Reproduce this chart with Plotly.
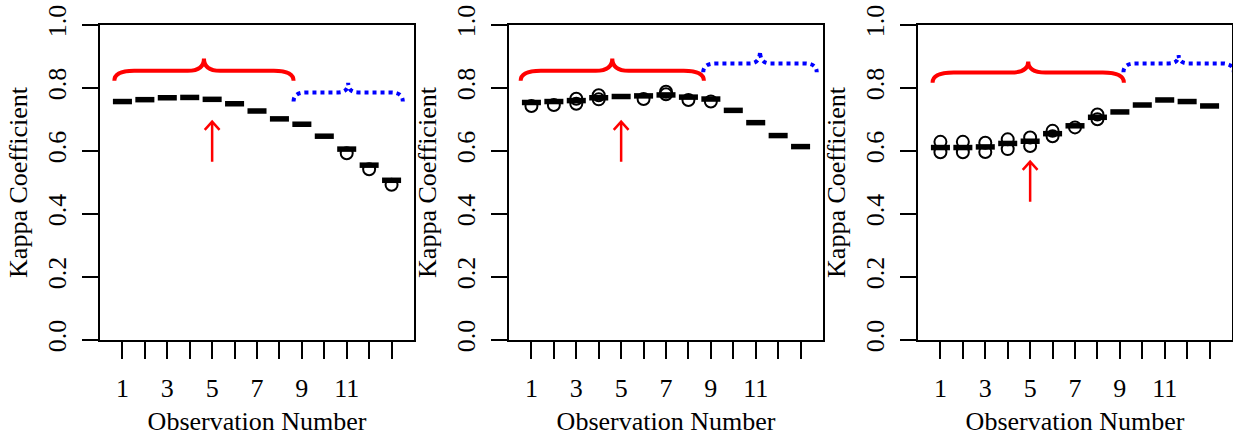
import plotly.graph_objects as go

# ---------------- data ----------------
obs = list(range(1, 14))
tick_text = ["1", "", "3", "", "5", "", "7", "", "9", "", "11", "", ""]
y_ticks = [0.0, 0.2, 0.4, 0.6, 0.8, 1.0]
y_tick_text = ["0.0", "0.2", "0.4", "0.6", "0.8", "1.0"]

kappa_1 = [0.757, 0.763, 0.769, 0.770, 0.764, 0.750, 0.727, 0.702, 0.685, 0.647, 0.606, 0.555, 0.507]
kappa_2 = [0.754, 0.757, 0.760, 0.769, 0.773, 0.775, 0.778, 0.771, 0.765, 0.729, 0.690, 0.649, 0.614]
kappa_3 = [0.611, 0.611, 0.613, 0.624, 0.631, 0.655, 0.680, 0.707, 0.724, 0.746, 0.762, 0.757, 0.743]

circ_x_1 = [11, 12, 13]
circ_y_1 = [0.593, 0.542, 0.493]
circ_x_2 = [1, 2, 3, 3, 4, 4, 6, 7, 7, 8, 9]
circ_y_2 = [0.743, 0.746, 0.766, 0.750, 0.777, 0.764, 0.765, 0.788, 0.780, 0.762, 0.757]
circ_x_3 = [1, 1, 2, 2, 3, 3, 4, 4, 5, 5, 6, 6, 7, 8, 8]
circ_y_3 = [0.629, 0.596, 0.629, 0.596, 0.626, 0.597, 0.637, 0.606, 0.643, 0.616,
            0.664, 0.647, 0.675, 0.716, 0.701]

# braces: (x_start, x_end, y_end, y_flat, y_tip)
red_braces = [(0.64, 8.63, 0.823, 0.855, 0.894),
              (0.52, 8.69, 0.823, 0.855, 0.894),
              (0.65, 9.18, 0.817, 0.849, 0.884)]
blue_braces = [(8.63, 13.50, 0.757, 0.786, 0.817),
               (8.66, 13.72, 0.850, 0.878, 0.917),
               (9.16, 14.08, 0.850, 0.878, 0.905)]
# arrows: (x, y_from, y_to)
arrows = [(5, 0.566, 0.693), (5, 0.566, 0.693), (5, 0.439, 0.566)]

kappas = [kappa_1, kappa_2, kappa_3]
circ_x = [circ_x_1, circ_x_2, circ_x_3]
circ_y = [circ_y_1, circ_y_2, circ_y_3]

FONT = "Liberation Serif, Times New Roman, serif"
FS = 26

# ---------------- figure ----------------
W, H = 1233, 436
ML, MR, MT = 100, 1, 25
PH = 315
MB = H - MT - PH
PW = W - ML - MR
panel_w = 314
gap = 95
domains = []
for i in range(3):
    a = (i * (panel_w + gap)) / PW
    b = (i * (panel_w + gap) + panel_w) / PW
    domains.append([a, min(b, 1.0)])

fig = go.Figure()


def brace_path(x0, x1, ye, ym, yt):
    wd = x1 - x0
    we = 0.11 * wd
    wt = 0.09 * wd
    xc = (x0 + x1) / 2
    return (f"M {x0},{ye} Q {x0},{ym} {x0 + we},{ym} L {xc - wt},{ym} "
            f"Q {xc},{ym} {xc},{yt} Q {xc},{ym} {xc + wt},{ym} "
            f"L {x1 - we},{ym} Q {x1},{ym} {x1},{ye}")


shapes = []
for i in range(3):
    sfx = "" if i == 0 else str(i + 1)
    xa, ya = "x" + sfx, "y" + sfx
    fig.add_trace(go.Scatter(
        x=circ_x[i], y=circ_y[i], mode="markers", xaxis=xa, yaxis=ya,
        marker=dict(symbol="circle-open", size=12, color="black",
                    line=dict(width=2, color="black")),
        showlegend=False, hoverinfo="skip", cliponaxis=True))
    fig.add_trace(go.Scatter(
        x=obs, y=kappas[i], mode="markers", xaxis=xa, yaxis=ya,
        marker=dict(symbol="line-ew", size=13.6, color="black",
                    line=dict(width=5.5, color="black")),
        showlegend=False, hoverinfo="skip"))

    rb = red_braces[i]
    bb = blue_braces[i]
    shapes.append(dict(type="path", xref=xa, yref=ya, path=brace_path(*rb),
                       line=dict(color="red", width=4)))
    shapes.append(dict(type="path", xref=xa, yref=ya, path=brace_path(*bb),
                       line=dict(color="blue", width=4, dash="dot")))
    ax, y0, y1 = arrows[i]
    hx, hy = 0.33, 0.026
    shapes.append(dict(type="path", xref=xa, yref=ya,
                       path=(f"M {ax},{y0} L {ax},{y1} M {ax - hx},{y1 - hy} "
                             f"L {ax},{y1} L {ax + hx},{y1 - hy}"),
                       line=dict(color="red", width=2.5)))

    xaxis = dict(domain=domains[i], anchor=ya, range=[0, 14],
                 tickmode="array", tickvals=obs, ticktext=tick_text,
                 ticks="outside", ticklen=17, tickwidth=2, tickcolor="black",
                 ticklabelstandoff=7, ticklabeloverflow="allow",
                 showline=True, linewidth=2, linecolor="black", mirror=True,
                 showgrid=False, zeroline=False,
                 tickfont=dict(family=FONT, size=FS, color="black"),
                 title=dict(text="Observation Number", standoff=20,
                            font=dict(family=FONT, size=FS, color="black")),
                 automargin=False)
    yaxis = dict(domain=[0, 1], anchor=xa, range=[0, 1],
                 tickmode="array", tickvals=y_ticks, ticktext=y_tick_text,
                 tickangle=-90,
                 ticks="outside", ticklen=16, tickwidth=2, tickcolor="black",
                 ticklabelstandoff=6, ticklabeloverflow="allow",
                 showline=True, linewidth=2, linecolor="black", mirror=True,
                 showgrid=False, zeroline=False,
                 tickfont=dict(family=FONT, size=FS, color="black"),
                 title=dict(text="Kappa Coefficient", standoff=7,
                            font=dict(family=FONT, size=FS, color="black")),
                 automargin=False)
    fig.update_layout(**{"xaxis" + sfx: xaxis, "yaxis" + sfx: yaxis})

fig.update_layout(
    width=W, height=H,
    margin=dict(l=ML, r=MR, t=MT, b=MB),
    paper_bgcolor="white", plot_bgcolor="white",
    shapes=shapes, showlegend=False,
    font=dict(family=FONT, size=FS, color="black"),
)

# remove the default 8px page margin so the figure sits at the window's corner
fig.write_html("out.html",
               config={"displayModeBar": False, "staticPlot": True},
               post_script="document.body.style.margin='0px';")
